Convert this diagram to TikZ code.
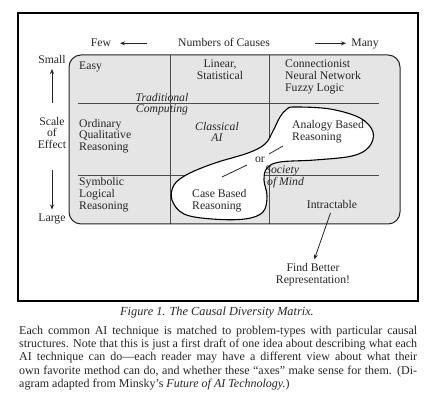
\documentclass[tikz,border=0pt]{standalone}
\usepackage{fontspec}
\setmainfont{Liberation Serif}
\usetikzlibrary{arrows.meta}
\newcommand\firstht{\rule{0pt}{8.5pt}}
\begin{document}
\begin{tikzpicture}[x=1pt,y=-1pt,
  lbl/.style={font=\fontsize{11.7}{11.8}\selectfont, inner sep=0pt, text=black!85},
  cellL/.style={lbl, align=left, anchor=north west},
  cellC/.style={lbl, align=center, anchor=north},
  itc/.style={font=\fontsize{11.7}{11.8}\selectfont\itshape},
  arr/.style={-{Stealth[length=5pt,width=4pt]}, line width=0.8pt, draw=black!85},
  gridline/.style={draw=black!70, line width=0.9pt},
  outerframe/.style={draw=black, line width=1.2pt},
  slash/.style={draw=black!85, line width=0.8pt},
]
\useasboundingbox (0,0) rectangle (434,403);
\draw[outerframe] (18,13) rectangle (418,301);
% matrix region
\fill[gray!20] (69,55) [rounded corners=12pt] rectangle (400,224);
\draw[gridline] (170,55) -- (170,224);
\draw[gridline] (269,55) -- (269,224);
\draw[gridline] (78,103.5) -- (379,103.5);
\draw[gridline] (78,175) -- (379,175);
\draw[black!85, line width=1pt, rounded corners=12pt] (69,55) rectangle (400,224);
% blob
\draw[line width=1.1pt, fill=white] plot[smooth cycle, tension=0.6] coordinates {
 (295,107) (330,109) (360,118) (373,132) (369,147) (352,156) (315,160) (280,162)
 (267,168) (264,180) (267,196) (263,212) (245,219) (212,219) (184,214) (172,200)
 (174,185) (188,174) (215,163) (248,153) (265,144) (273,131) (280,117) (287,109)};
\coordinate (s1a) at (269,154); \coordinate (s1b) at (283,146);
\coordinate (s2a) at (222,177); \coordinate (s2b) at (247,165);
\draw[slash] (s1a) -- (s1b);
\draw[slash] (s2a) -- (s2b);
% axis labels
\node[lbl, anchor=base] (few) at (101,47) {Few};
\node[lbl, anchor=base] (ncauses) at (224,47) {Numbers of Causes};
\node[lbl, anchor=base] (many) at (365,47) {Many};
\coordinate (fewR) at (147,43.3); \coordinate (fewL) at (120,43.3);
\coordinate (manyL) at (315,43.3); \coordinate (manyR) at (346,43.3);
\draw[arr] (fewR) -- (fewL);
\draw[arr] (manyL) -- (manyR);
\node[lbl, anchor=base] (small) at (52,64) {Small};
\node[cellC] (scale) at (52,116.5) {\firstht Scale\\of\\Effect};
\node[lbl, anchor=base] (large) at (52,221.5) {Large};
\coordinate (upB) at (52,103); \coordinate (upT) at (52,69);
\coordinate (dnT) at (52,170); \coordinate (dnB) at (52,209.5);
\draw[arr] (upB) -- (upT);
\draw[arr] (dnT) -- (dnB);
% cells
\node[lbl, anchor=base west] (easy) at (79,69.5) {Easy};
\node[cellC] (linear) at (220,59.2) {\firstht Linear,\\Statistical};
\node[cellL] (conn) at (285,59.2) {\firstht Connectionist\\Neural Network\\Fuzzy Logic};
\node[cellC, itc] (trad) at (162,92.5) {\firstht Traditional\\Computing};
\node[cellL] (ordinary) at (79,118.5) {\firstht Ordinary\\Qualitative\\Reasoning};
\node[cellC, itc] (classical) at (217,121.5) {\firstht Classical\\AI};
\node[cellL] (analogy) at (292,119.8) {\firstht Analogy Based\\Reasoning};
\node[lbl, anchor=base] (or) at (260,162.7) {or};
\node[cellL, itc] (society) at (265,164.8) {\firstht Society\\\,of Mind};
\node[cellL] (symbolic) at (79,177.2) {\firstht Symbolic\\Logical\\Reasoning};
\node[cellL] (casebased) at (192,188.8) {\firstht Case Based\\Reasoning};
\node[lbl, anchor=base] (intr) at (332,208.3) {Intractable};
\node[cellC] (find) at (313,263.2) {\firstht Find Better\\Representation!};
\draw[arr, shorten <=4.5pt, shorten >=4pt] (intr.south) -- (find.north);
% caption
\node[lbl, anchor=base, font=\fontsize{12.3}{14}\selectfont\itshape] (caption) at (217,316) {Figure 1. The Causal Diversity Matrix.};
\node[lbl, anchor=north west, text width=398pt, align=justify, font=\fontsize{12}{13.3}\selectfont] (para) at (19,325.5) {\firstht Each common AI technique is matched to problem-types with particular causal\linebreak structures. Note that this is just a first draft of one idea about describing what each\linebreak AI technique can do—each reader may have a different view about what their\linebreak own favorite method can do, and whether these “axes” make sense for them. (Di-\linebreak agram adapted from Minsky’s \textit{Future of AI Technology.})};
\end{tikzpicture}
\end{document}
